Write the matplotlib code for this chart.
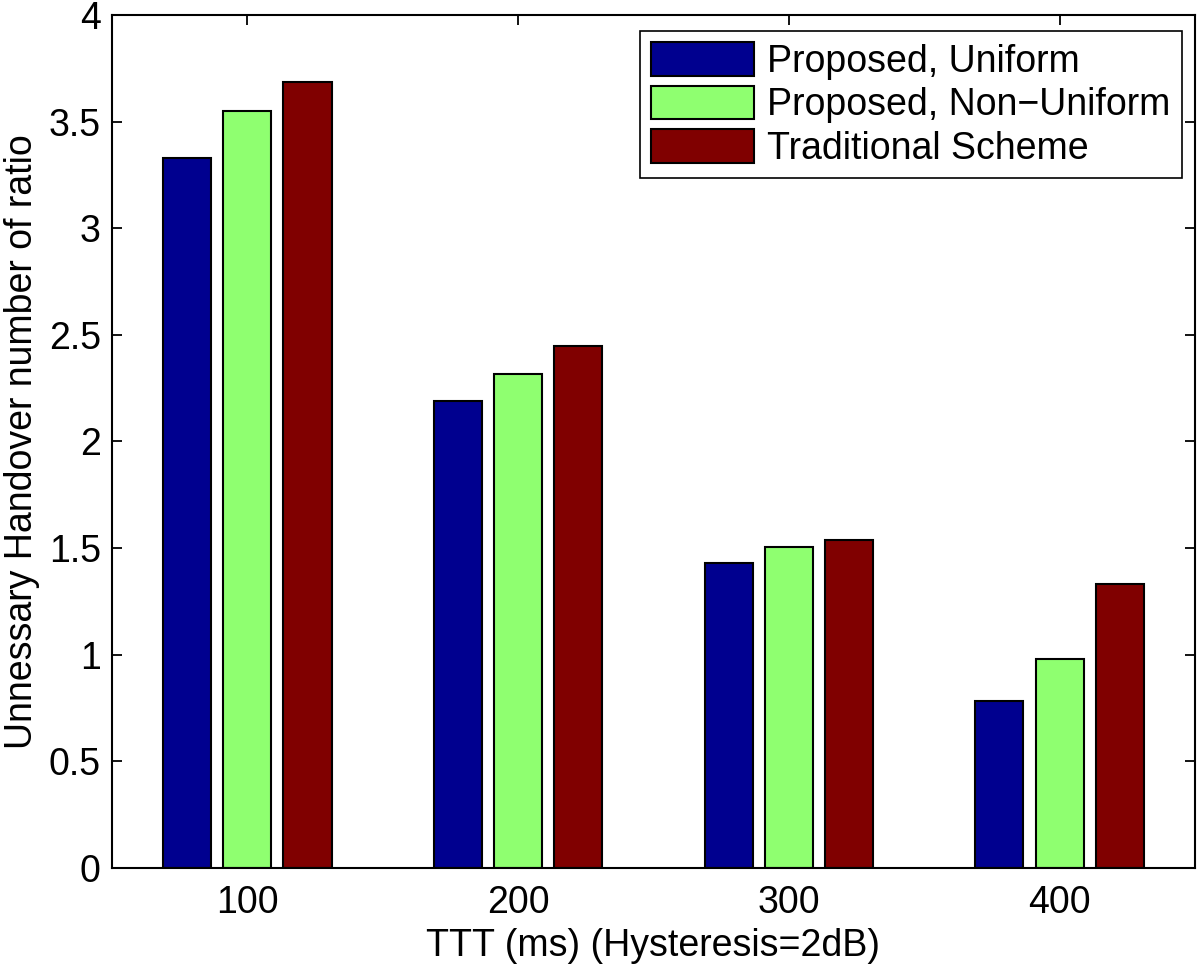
import matplotlib
matplotlib.use("Agg")
import matplotlib.pyplot as plt
import numpy as np

plt.rcParams['font.family'] = ['Liberation Sans', 'DejaVu Sans']

categories = ["100", "200", "300", "400"]
series_names = ["Proposed, Uniform", "Proposed, Non\u2212Uniform", "Traditional Scheme"]
uniform = [3.33, 2.19, 1.43, 0.783]
non_uniform = [3.55, 2.315, 1.505, 0.979]
traditional = [3.685, 2.45, 1.54, 1.331]
colors = ["#00008F", "#8FFF70", "#800000"]

FS = 27

fig = plt.figure(figsize=(12, 9.67), dpi=100)
ax = fig.add_axes([0.0933, 0.1024, 0.9025, 0.8821])

x = np.arange(1, len(categories) + 1)
n = 3
group_w = n / (n + 1.5)
bar_w = group_w / n * 0.8
for i, (vals, name, c) in enumerate(zip([uniform, non_uniform, traditional], series_names, colors)):
    ax.bar(x + (i - 1) * group_w / n, vals, width=bar_w, color=c, edgecolor='black',
           linewidth=1.5, label=name, zorder=2)

ax.set_xlim(0.5, 4.5)
ax.set_ylim(0, 4)
ax.set_xticks(x)
ax.set_xticklabels(categories)
yt = np.arange(0, 4.01, 0.5)
ax.set_yticks(yt)
ax.set_yticklabels([("%g" % v) for v in yt])
ax.tick_params(direction='in', top=True, right=True, labelsize=FS, length=7, width=1.3)
ax.tick_params(axis='y', pad=8)
ax.tick_params(axis='x', pad=12)
for s in ax.spines.values():
    s.set_linewidth(1.5)

ax.set_xlabel("TTT (ms) (Hysteresis=2dB)", fontsize=FS, labelpad=5)
ax.set_ylabel("Unnessary Handover number of ratio", fontsize=FS, labelpad=6)

leg = ax.legend(loc='upper right', bbox_to_anchor=(0.988, 0.981), fontsize=FS, fancybox=False,
                framealpha=1, edgecolor='black', handlelength=2.75, handleheight=1.0,
                handletextpad=0.35, labelspacing=0.15, borderpad=0.3, borderaxespad=0.0)
leg.get_frame().set_linewidth(1.2)

fig.savefig("out.png", dpi=100)
